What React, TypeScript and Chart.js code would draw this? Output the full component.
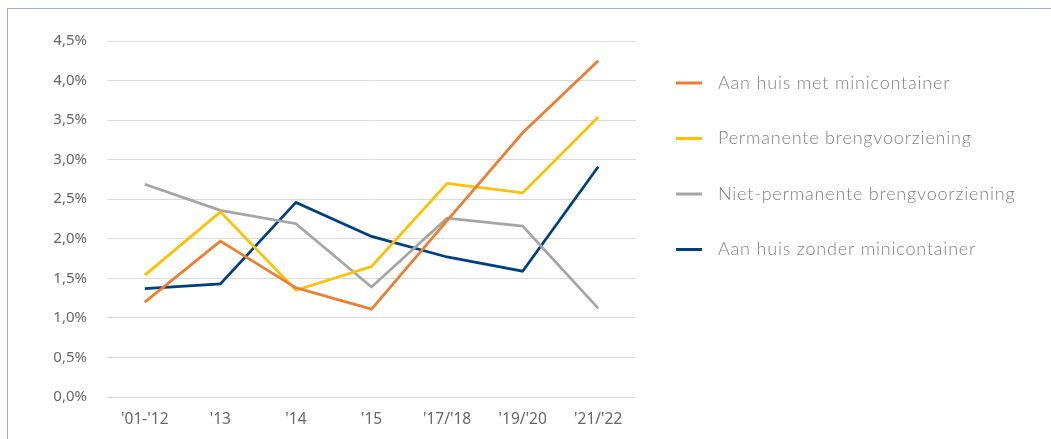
import React, { useEffect, useRef } from "react";
import { Chart, registerables } from "chart.js";

Chart.register(...registerables);

const categories = ["'01-'12", "'13", "'14", "'15", "'17/'18", "'19/'20", "'21/'22"];
const seriesNames = [
  "Aan huis met minicontainer",
  "Permanente brengvoorziening",
  "Niet-permanente brengvoorziening",
  "Aan huis zonder minicontainer",
];
const aanHuisMet = [1.2, 1.97, 1.38, 1.11, 2.23, 3.34, 4.25];
const permanente = [1.54, 2.34, 1.35, 1.65, 2.7, 2.58, 3.54];
const nietPermanente = [2.69, 2.36, 2.19, 1.39, 2.26, 2.16, 1.12];
const aanHuisZonder = [1.37, 1.43, 2.46, 2.03, 1.77, 1.59, 2.91];
const seriesColors = ["#ED7D31", "#FFC000", "#A5A5A5", "#003F7F"];
const yTicks = [0, 0.5, 1, 1.5, 2, 2.5, 3, 3.5, 4, 4.5];

const legendPlugin = {
  id: "sideLegend",
  afterDraw(chart: any) {
    const { ctx, chartArea } = chart;
    ctx.save();
    const x0 = chartArea.right + 40;
    chart.data.datasets.forEach((ds: any, i: number) => {
      const y = chartArea.top + 42 + i * 55.5;
      ctx.strokeStyle = ds.borderColor;
      ctx.lineWidth = 3;
      ctx.beginPath();
      ctx.moveTo(x0, y);
      ctx.lineTo(x0 + 26, y);
      ctx.stroke();
      ctx.fillStyle = "#7f7f7f";
      ctx.font = "300 18px Lato, 'Open Sans', sans-serif";
      try {
        (ctx as any).letterSpacing = "0.8px";
      } catch (e) {}
      ctx.textBaseline = "middle";
      ctx.fillText(ds.label, x0 + 42, y);
    });
    ctx.restore();
  },
};

export default function App() {
  const ref = useRef<HTMLCanvasElement>(null);
  useEffect(() => {
    if (!ref.current) return;
    const all = [aanHuisMet, permanente, nietPermanente, aanHuisZonder];
    const chart = new Chart(ref.current, {
      type: "line",
      data: {
        labels: categories,
        datasets: all.map((d, i) => ({
          label: seriesNames[i],
          data: d,
          borderColor: seriesColors[i],
          backgroundColor: seriesColors[i],
          borderWidth: 2.75,
          pointRadius: 0,
          tension: 0,
          fill: false,
        })),
      },
      options: {
        animation: false,
        responsive: false,
        maintainAspectRatio: false,
        layout: { padding: { top: 32, right: 415, bottom: 0, left: 0 } },
        plugins: { legend: { display: false }, tooltip: { enabled: false } },
        scales: {
          x: {
            offset: true,
            grid: { display: false },
            border: { display: false },
            ticks: {
              color: "#666666",
              font: { family: "'Noto Sans', sans-serif", size: 15.5 },
              padding: 5,
              maxRotation: 0,
            },
            afterFit: (s: any) => {
              s.height = 42;
            },
          },
          y: {
            min: 0,
            max: 4.5,
            afterBuildTicks: (s: any) => {
              s.ticks = yTicks.map((v) => ({ value: v }));
            },
            grid: { color: "#d9d9d9", lineWidth: 1, drawTicks: false },
            border: { display: false },
            ticks: {
              color: "#666666",
              font: { family: "'Noto Sans', sans-serif", size: 15 },
              padding: 20,
              callback: (v: any) => Number(v).toFixed(1).replace(".", ",") + "%",
            },
            afterFit: (s: any) => {
              s.width = 99;
            },
          },
        },
      },
      plugins: [legendPlugin],
    });
    return () => chart.destroy();
  }, []);

  return (
    <div style={{ position: "fixed", left: 0, top: 0, width: "100vw", height: "100vh", overflow: "hidden", background: "#fff" }}>
      <div
        style={{
          position: "absolute",
          left: 7,
          top: 8,
          width: 1100,
          height: 500,
          border: "1px solid #a3acd6",
          boxSizing: "border-box",
        }}
      />
      <canvas ref={ref} width={1043} height={430} style={{ position: "absolute", left: 8, top: 9 }} />
    </div>
  );
}
